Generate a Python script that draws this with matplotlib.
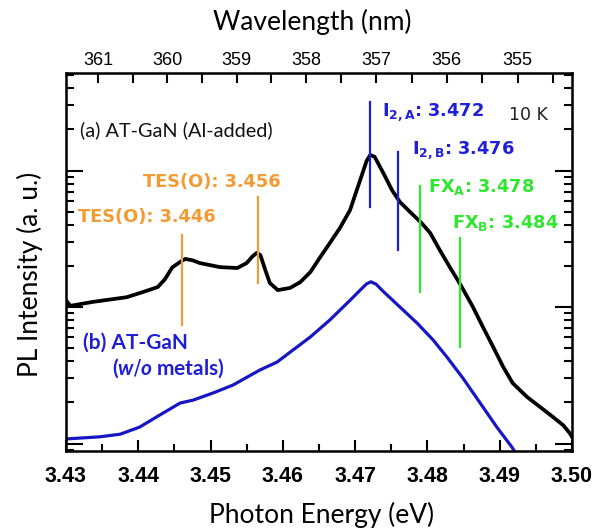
"""
PL spectra of AT-GaN at 10 K, log intensity vs photon energy,
with a wavelength axis on top.
"""
import numpy as np
import matplotlib
matplotlib.use('Agg')
import matplotlib.pyplot as plt
from matplotlib.ticker import FixedLocator, NullFormatter

plt.rcParams['mathtext.fontset'] = 'custom'
plt.rcParams['mathtext.it'] = 'Lato:italic:bold'
plt.rcParams['mathtext.rm'] = 'DejaVu Sans'

# == Spectrum (a): AT-GaN (Al-added) == #
energy_a = [3.4300, 3.4306, 3.4337, 3.4384, 3.4407, 3.4427, 3.4437, 3.4447,
            3.4458, 3.4465, 3.4475, 3.4485, 3.4513, 3.4537, 3.4550, 3.4558,
            3.4564, 3.4569, 3.4576, 3.4582, 3.4593, 3.4610, 3.4624, 3.4638,
            3.4651, 3.4665, 3.4679, 3.4693, 3.4707, 3.4716, 3.4721, 3.4727,
            3.4733, 3.4739, 3.4751, 3.4762, 3.4776, 3.4792, 3.4804, 3.4817,
            3.4831, 3.4846, 3.4863, 3.4877, 3.4891, 3.4905, 3.4918, 3.4938,
            3.4956, 3.4974, 3.4988, 3.4997, 3.5000]
pl_a = [1.12, 1.02, 1.09, 1.18, 1.29, 1.40, 1.60, 1.95,
        2.14, 2.25, 2.20, 2.10, 1.96, 1.93, 2.10, 2.35,
        2.49, 2.40, 1.85, 1.50, 1.33, 1.38, 1.52, 1.80,
        2.29, 2.94, 3.79, 5.13, 8.51, 11.8, 13.0, 12.6,
        11.0, 9.59, 7.19, 5.88, 4.97, 4.12, 3.48, 2.62,
        1.96, 1.45, 1.00, 0.71, 0.51, 0.363, 0.277, 0.219,
        0.185, 0.156, 0.136, 0.119, 0.112]

# == Spectrum (b): AT-GaN (w/o metals) == #
energy_b = [3.4300, 3.4347, 3.4375, 3.4402, 3.4430, 3.4458, 3.4476, 3.4503,
            3.4531, 3.4568, 3.4592, 3.4614, 3.4638, 3.4665, 3.4693, 3.4707,
            3.4716, 3.4722, 3.4729, 3.4739, 3.4762, 3.4786, 3.4808, 3.4827,
            3.4849, 3.4873, 3.4896, 3.4917, 3.4928]
pl_b = [0.108, 0.112, 0.117, 0.132, 0.162, 0.198, 0.208, 0.234,
        0.268, 0.345, 0.395, 0.484, 0.603, 0.803, 1.12, 1.33,
        1.48, 1.53, 1.47, 1.30, 1.00, 0.76, 0.573, 0.430,
        0.302, 0.198, 0.132, 0.094, 0.076]

# == Peak markers: energy, bottom, top == #
peak_e = [3.446, 3.4565, 3.472, 3.476, 3.479, 3.4845]
peak_lo = [0.738, 1.50, 5.40, 2.62, 1.29, 0.51]
peak_hi = [3.37, 6.4, 31.8, 13.7, 7.70, 3.20]
orange, blue, green = '#f39a33', '#1f1fd6', '#2ee62e'
peak_col = [orange, orange, blue, blue, green, green]

# == Axis ticks == #
e_major = [3.43, 3.44, 3.45, 3.46, 3.47, 3.48, 3.49, 3.50]
e_minor = [3.435, 3.445, 3.455, 3.465, 3.475, 3.485, 3.495]
wl_major = [361, 360, 359, 358, 357, 356, 355]
wl_minor = [360.5, 359.5, 358.5, 357.5, 356.5, 355.5, 354.5]
hc = 1239.84

fig = plt.figure(figsize=(6.02, 5.29), dpi=100)
ax = fig.add_axes([0.1096, 0.1474, 0.8405, 0.7146])

ax.semilogy(energy_a, pl_a, color='black', lw=2.7, solid_joinstyle='round')
ax.semilogy(energy_b, pl_b, color='#1616c4', lw=2.3, solid_joinstyle='round')
for e, lo, hi, c in zip(peak_e, peak_lo, peak_hi, peak_col):
    ax.plot([e, e], [lo, hi], color=c, lw=1.6)

ax.set_xlim(3.43, 3.50)
ax.set_ylim(0.0881, 51.8)

# == Bottom axis == #
ax.xaxis.set_major_locator(FixedLocator(e_major))
ax.xaxis.set_minor_locator(FixedLocator(e_minor))
ax.set_xticklabels(['%.2f' % v for v in e_major], family='Liberation Sans',
                   weight='bold', fontsize=15.5)
ax.tick_params(axis='x', which='major', direction='in', length=8, width=1.5,
               pad=11, top=False)
ax.tick_params(axis='x', which='minor', direction='in', length=5, width=1.5,
               top=False)
ax.tick_params(axis='y', which='major', direction='in', length=12, width=1.5,
               left=True, right=True, labelleft=False)
ax.tick_params(axis='y', which='minor', direction='in', length=6, width=1.5,
               left=True, right=True, labelleft=False)
ax.yaxis.set_minor_formatter(NullFormatter())
for s in ax.spines.values():
    s.set_linewidth(1.8)

ax.set_xlabel('Photon Energy (eV)', family='Lato', fontsize=19)
ax.xaxis.set_label_coords(0.506, -0.135)
ax.xaxis.label.set_va('top')
ax.set_ylabel('PL Intensity (a. u.)', family='Lato', fontsize=19)
ax.yaxis.set_label_coords(-0.045, 0.466)

# == Top axis: wavelength == #
ax2 = ax.twiny()
ax2.set_xlim(ax.get_xlim())
ax2.xaxis.set_major_locator(FixedLocator([hc / w for w in wl_major]))
ax2.xaxis.set_minor_locator(FixedLocator([hc / w for w in wl_minor]))
ax2.set_xticklabels([str(w) for w in wl_major], family='Liberation Sans',
                    fontsize=13)
ax2.tick_params(axis='x', which='both', direction='in', length=7, width=1.5,
                pad=3)
ax2.set_xlabel('Wavelength (nm)', family='Lato', fontsize=19)
ax2.xaxis.set_label_coords(0.487, 1.100)
ax2.xaxis.label.set_va('bottom')

# == Annotations == #
lbl = dict(fontsize=12.8, weight='bold', family='DejaVu Sans', va='center')
ax.text(3.4317, 4.56, 'TES(O): 3.446', color=orange, **lbl)
ax.text(3.4407, 8.24, 'TES(O): 3.456', color=orange, **lbl)
ax.text(3.4737, 26.8, r'I$_{\mathregular{2,A}}$: 3.472', color=blue, **lbl)
ax.text(3.4779, 14.1, r'I$_{\mathregular{2,B}}$: 3.476', color=blue, **lbl)
ax.text(3.4801, 7.57, r'FX$_{\mathregular{A}}$: 3.478', color=green, **lbl)
ax.text(3.4834, 4.12, r'FX$_{\mathregular{B}}$: 3.484', color=green, **lbl)
ax.text(3.4913, 25.5, '10 K', fontsize=12.5, family='DejaVu Sans',
        va='center', color='#222222')
ax.text(3.4319, 19.8, '(a) AT-GaN (Al-added)', fontsize=14.3, family='Lato',
        va='center', color='#111111')
ax.text(3.4324, 0.545, '(b) AT-GaN', fontsize=15, family='Lato',
        weight='bold', va='center', color='#1f1fd6')
ax.text(3.4364, 0.357, r'($\it{w/o}$ metals)', fontsize=15, family='Lato',
        weight='bold', va='center', color='#1f1fd6')

fig.savefig('out.png', dpi=100)
